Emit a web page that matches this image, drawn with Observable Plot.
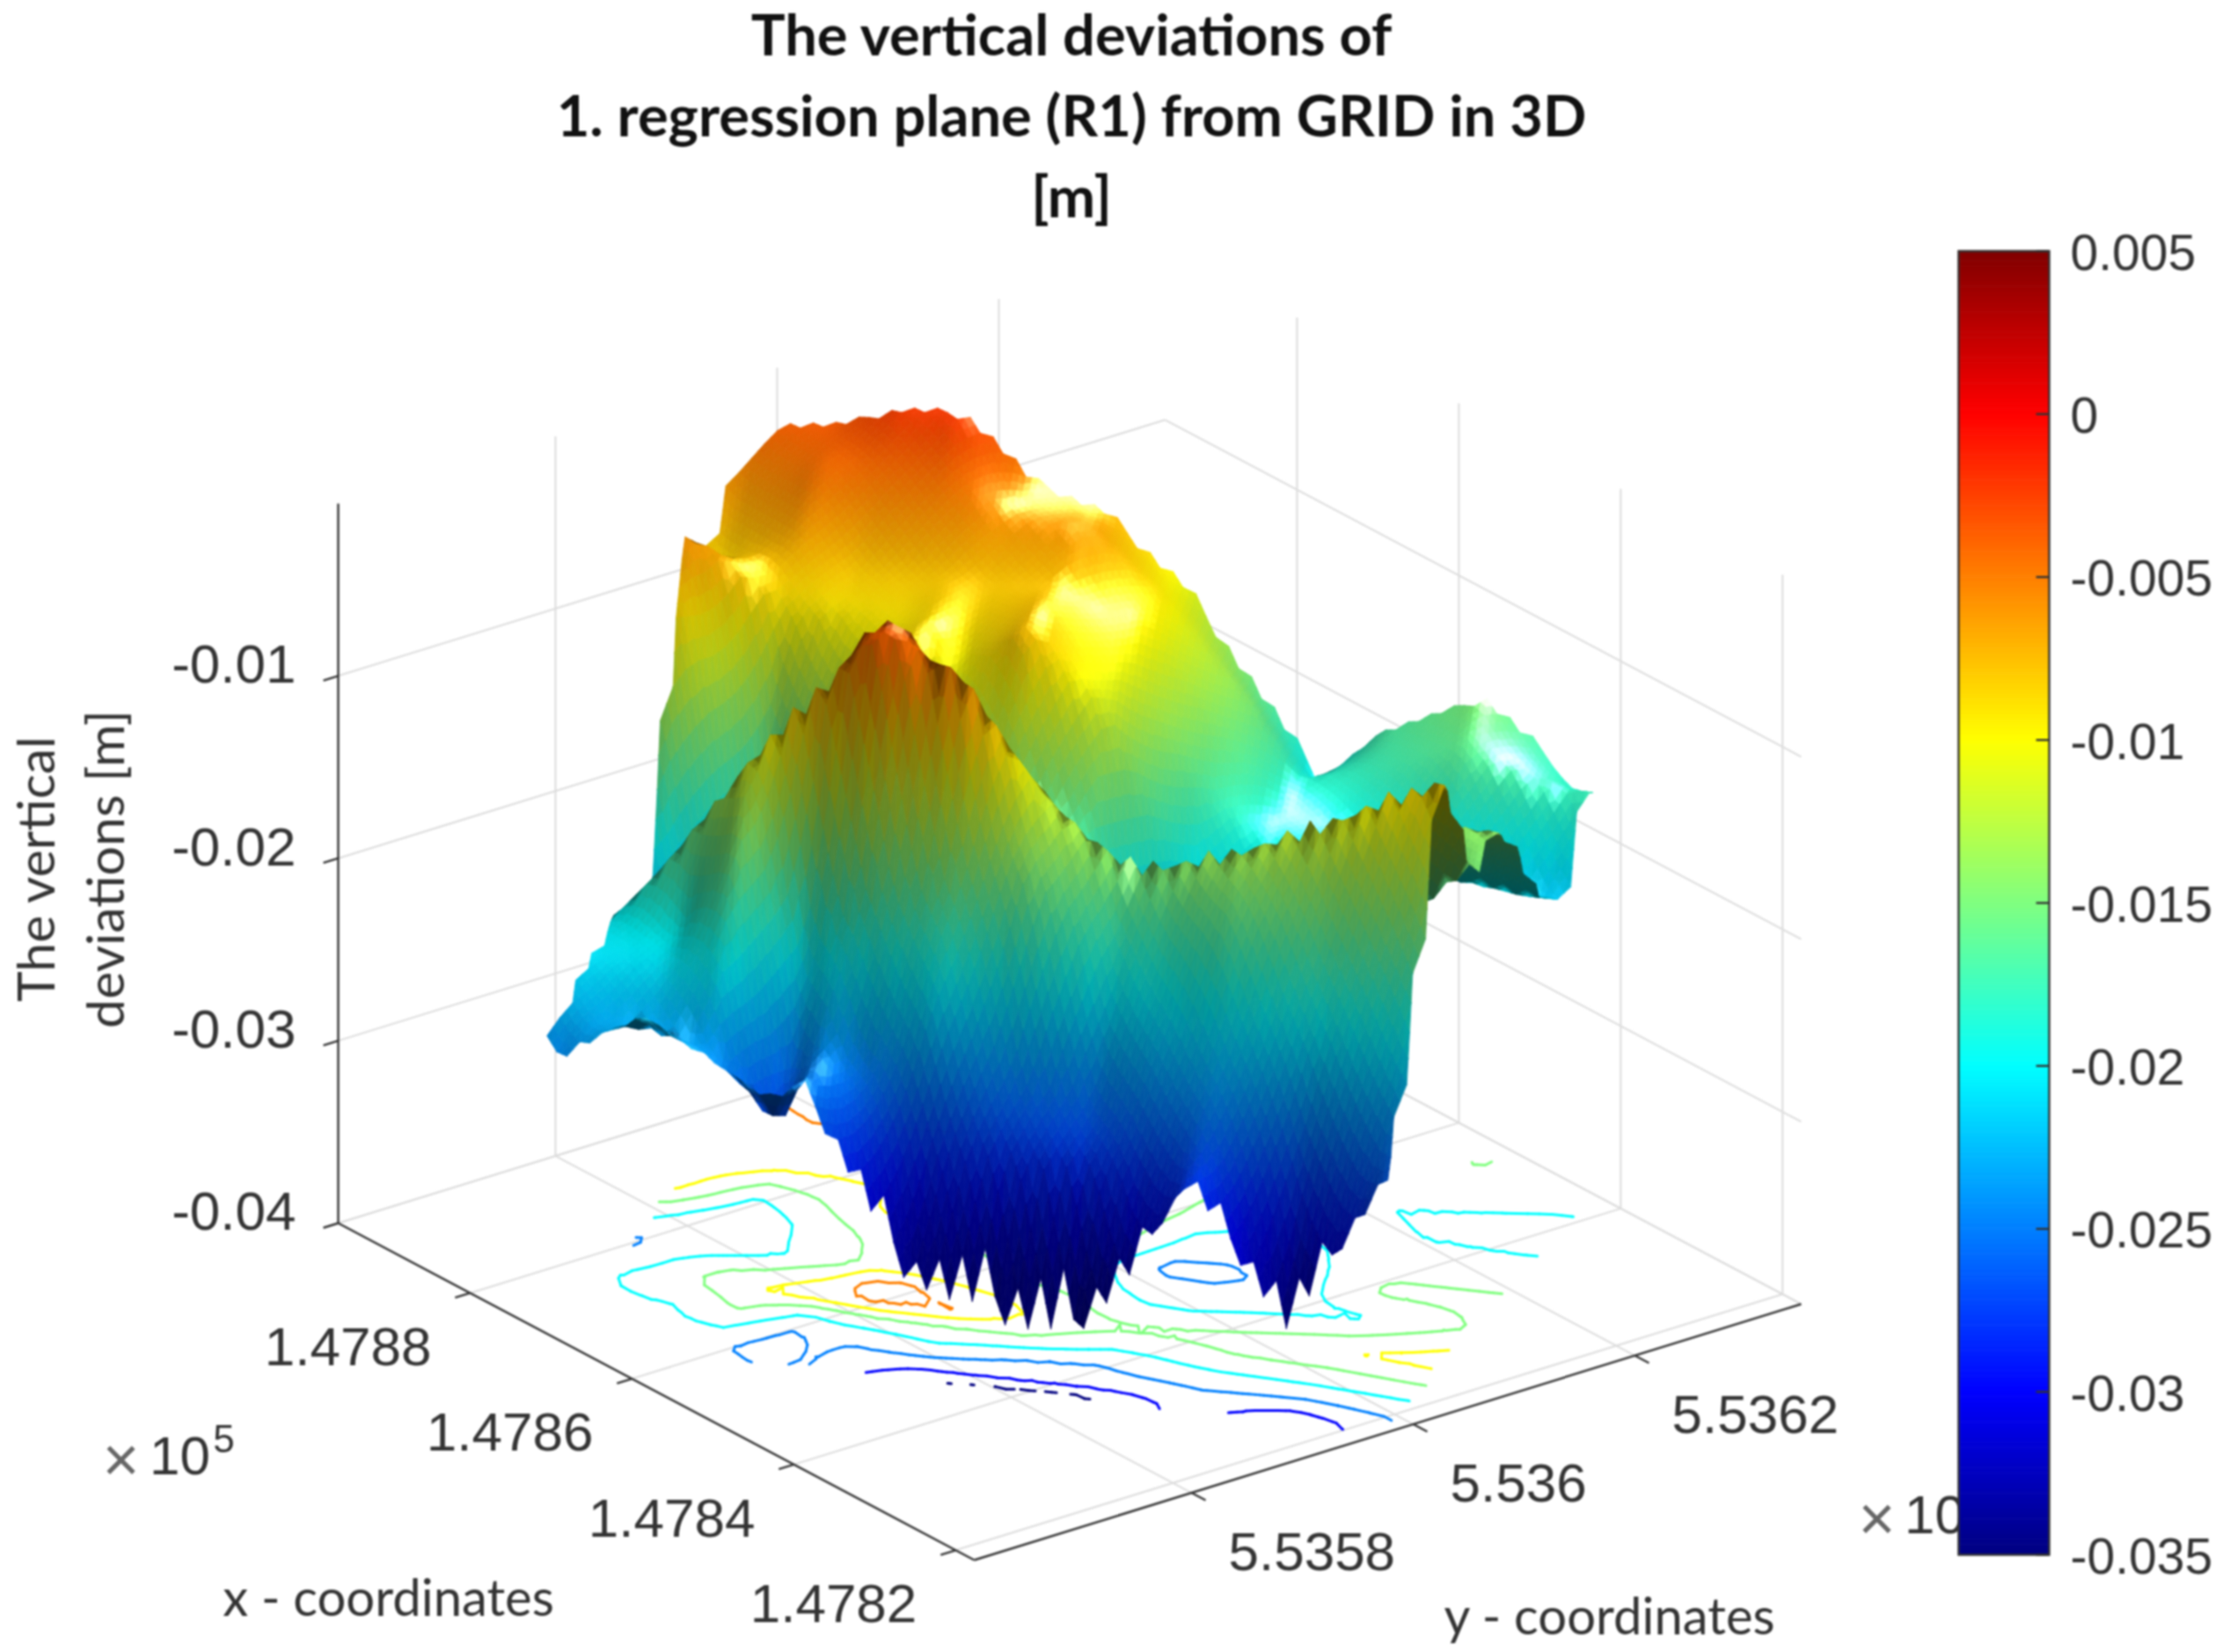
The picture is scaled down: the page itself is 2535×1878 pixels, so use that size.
<!DOCTYPE html>
<html>
<head>
<meta charset="utf-8">
<script src="https://cdn.jsdelivr.net/npm/d3@7"></script>
<script src="https://cdn.jsdelivr.net/npm/@observablehq/plot@0.6"></script>
<style>
  body { margin: 0; background: #fff; }
  #wrap { position: relative; width: 2535px; height: 1878px; overflow: hidden; filter: blur(0.9px); }
  #wrap svg { position: absolute; left: 0; top: 0; }
  #title { position: absolute; left: 0; top: -8px; width: 2436px; text-align: center;
    font: bold 65px/92px Lato, sans-serif; color: #111; z-index: 2; }
  #ylabel { position: absolute; left: 0px; top: 988px; width: 460px; text-align: center;
    font: 59px/79px Lato, sans-serif; color: #333; transform-origin: 0 0;
    transform: rotate(-90deg) translate(-230px, 0); z-index: 2; }
</style>
</head>
<body>
<div id="wrap">
  <div id="title">The vertical deviations of<br>1. regression plane (R1) from GRID in 3D<br>[m]</div>
  <div id="ylabel">The vertical<br>deviations [m]</div>
</div>
<script>
const W = 2535, H = 1878;

const xTicks = [147820, 147840, 147860, 147880];
const yTicks = [553580, 553600, 553620];
const zTicks = [-0.04, -0.03, -0.02, -0.01];
const xTickLabels = ["1.4782", "1.4784", "1.4786", "1.4788"];
const yTickLabels = ["5.5358", "5.536", "5.5362"];
const zTickLabels = ["-0.04", "-0.03", "-0.02", "-0.01"];
const barTicks = [0.005, 0, -0.005, -0.01, -0.015, -0.02, -0.025, -0.03, -0.035];
const barTickLabels = ["0.005", "0", "-0.005", "-0.01", "-0.015", "-0.02", "-0.025", "-0.03", "-0.035"];
const contourLevels = [-0.035, -0.03, -0.025, -0.02, -0.015, -0.01, -0.005];

const xLimits = [147817.7, 147896.3];
const yLimits = [553560.4, 553635];
const zLimits = [-0.04, -0.00056];

// the measured patch is a tilted rectangle on the x/y floor
const patchCorner = [147868.8, 553560.4];
const patchAlong = [-51.1, 37.3];
const patchAcross = [29.1, 38.8];

// positions along / across the patch, and the deviations read there
const alongStops = [0, 0.1, 0.17, 0.25, 0.29, 0.33, 0.42, 0.52, 0.62, 0.68, 0.76, 0.88, 1];
const acrossStops = [0, 0.05, 0.12, 0.2, 0.27, 0.33, 0.4, 0.5, 0.6, 0.7, 0.8, 0.9, 1];
const row00 = [-.0245,-.0215,-.0235,-.0252,-.0245,-.0275,-.0345,-.0362,-.0368,-.0335,-.0275,-.035,-.0262];
const row01 = [-.0225,-.0235,-.0238,-.0279,-.0245,-.0262,-.029,-.0285,-.0285,-.0285,-.0265,-.0285,-.0248];
const row02 = [-.021,-.021,-.0195,-.0255,-.024,-.0245,-.0215,-.0245,-.0255,-.0235,-.0225,-.0215,-.02];
const row03 = [-.0205,-.0195,-.0138,-.0195,-.018,-.0165,-.0155,-.015,-.019,-.0185,-.0158,-.0155,-.0135];
const row04 = [-.0205,-.015,-.0105,-.0062,-.0048,-.0036,-.0048,-.0115,-.0142,-.0138,-.0128,-.0102,-.0078];
const row05 = [-.0245,-.016,-.0145,-.0098,-.0042,-.0032,-.0085,-.0125,-.0185,-.0185,-.017,-.015,-.0105];
const row06 = [-.0255,-.0235,-.0205,-.0165,-.0125,-.013,-.0145,-.0165,-.0215,-.0225,-.0215,-.0205,-.015];
const row07 = [-.0185,-.0255,-.0195,-.0145,-.014,-.0145,-.0155,-.017,-.0265,-.0265,-.0235,-.014,-.014];
const row08 = [-.009,-.0195,-.0155,-.0095,-.0085,-.0105,-.0075,-.0115,-.0215,-.0225,-.021,-.0165,-.0165];
const row09 = [-.0058,-.0095,-.0095,-.0092,-.0085,-.0088,-.0075,-.0105,-.0175,-.019,-.019,-.02,-.0205];
const row10 = [-.0088,-.0068,-.0078,-.0078,-.0078,-.0078,-.0078,-.0095,-.0155,-.0185,-.0195,-.0205,-.022];
const row11 = [-.0066,-.0045,-.0048,-.005,-.0052,-.0058,-.006,-.0095,-.0145,-.0185,-.0178,-.0162,-.0175];
const row12 = [-.004,-.0036,-.0024,-.0022,-.0037,-.0055,-.0068,-.0105,-.0165,-.0202,-.017,-.0147,-.019];
const zRows = [row00, row01, row02, row03, row04, row05, row06, row07, row08, row09, row10, row11, row12];

// MATLAB jet
const jetStops = [0, 0.125, 0.375, 0.625, 0.875, 1];
const jetRgb = [[0, 0, 128], [0, 0, 255], [0, 255, 255], [255, 255, 0], [255, 0, 0], [128, 0, 0]];
const jetDomain = [-0.035, 0.005];
const jetIndex = d3.scaleLinear().domain(jetStops).range(jetRgb.map((_, i) => i)).clamp(true);
function jet(z) {
  const f = jetIndex((z - jetDomain[0]) / (jetDomain[1] - jetDomain[0]));
  const i = Math.min(Math.floor(f), jetRgb.length - 2), a = f - i;
  return jetRgb[i].map((c, k) => c + (jetRgb[i + 1][k] - c) * a);
}
const css = c => `rgb(${c.map(v => Math.round(Math.max(0, Math.min(255, v)))).join(",")})`;

// orthographic view of the axes box, fitted to the picture's box corners
const origin = [1107, 1773], xEdge = [-723, -383], yEdge = [940, -291], zEdge = [0, -818];
function project(x, y, z) {
  const s = (x - xLimits[0]) / (xLimits[1] - xLimits[0]);
  const t = (y - yLimits[0]) / (yLimits[1] - yLimits[0]);
  const h = (z - zLimits[0]) / (zLimits[1] - zLimits[0]);
  return [origin[0] + s * xEdge[0] + t * yEdge[0], origin[1] + s * xEdge[1] + t * yEdge[1] + h * zEdge[1]];
}
function seg(a, b, extra = {}) {
  const p = project(...a), q = project(...b);
  return { x1: p[0], y1: p[1], x2: q[0], y2: q[1], ...extra };
}

// --- surface
function patchCoords(x, y) {
  const dx = x - patchCorner[0], dy = y - patchCorner[1];
  const det = patchAlong[0] * patchAcross[1] - patchAlong[1] * patchAcross[0];
  return [(dx * patchAcross[1] - dy * patchAcross[0]) / det, (patchAlong[0] * dy - patchAlong[1] * dx) / det];
}
function stopPos(stops, v) {
  const c = Math.max(stops[0], Math.min(stops[stops.length - 1], v));
  const i = Math.min(d3.bisectRight(stops, c) - 1, stops.length - 2);
  return [i, (c - stops[i]) / (stops[i + 1] - stops[i])];
}
function heightAt(x, y) {
  const [p, q] = patchCoords(x, y);
  const [i, a] = stopPos(alongStops, p), [j, b] = stopPos(acrossStops, q);
  const r0 = zRows[j][i] * (1 - a) + zRows[j][i + 1] * a;
  const r1 = zRows[j + 1][i] * (1 - a) + zRows[j + 1][i + 1] * a;
  return r0 * (1 - b) + r1 * b;
}
// left limit of the patch: a narrow tip at the front, straight behind it
const leftLimit = q => q < 0.17 ? -0.025 + 0.15 * q : -0.03 * (q - 0.17);

const N = 64;
const stepX = (xLimits[1] - xLimits[0]) / N, stepY = (yLimits[1] - yLimits[0]) / N;
const worldX = 738 / (xLimits[1] - xLimits[0]), worldY = 733 / (yLimits[1] - yLimits[0]);
const worldZ = 552 / (zLimits[1] - zLimits[0]);
const norm = v => { const l = Math.hypot(...v); return v.map(c => c / l); };
const dot = (a, b) => a[0] * b[0] + a[1] * b[1] + a[2] * b[2];
const viewDir = norm([-0.727, -0.555, 0.405]);
const lightDir = norm([-0.35, 0.15, 0.92]);
const halfDir = norm([-0.3, 0.13, 0.94]);

function node(i, j) {
  const x = xLimits[0] + i * stepX, y = yLimits[0] + j * stepY;
  const [p, q] = patchCoords(x, y);
  if (p < leftLimit(q) || p > 1 + 0.04 * q || q < -0.012 || q > 1.03) return null;
  const z = heightAt(x, y);
  const dzx = (heightAt(x + stepX, y) - heightAt(x - stepX, y)) / (2 * stepX) * worldZ / worldX;
  const dzy = (heightAt(x, y + stepY) - heightAt(x, y - stepY)) / (2 * stepY) * worldZ / worldY;
  const n = norm([-dzx, -dzy, 1]);
  const base = jet(z);
  if (dot(n, viewDir) < 0) return { x, y, z, rgb: base.map(c => c * 0.32) };
  const diff = Math.max(0, dot(n, lightDir));
  const spec = 0.8 * Math.pow(Math.max(0, dot(n, halfDir)), 40);
  return { x, y, z, rgb: base.map(c => c * (0.4 + 0.6 * diff) + 255 * spec) };
}
const nodes = d3.range(N + 1).map(i => d3.range(N + 1).map(j => node(i, j)));
const triangles = [];
for (let i = 0; i < N; i++) for (let j = 0; j < N; j++) {
  const a = nodes[i][j], b = nodes[i + 1][j], c = nodes[i][j + 1], d = nodes[i + 1][j + 1];
  if (a && b && d) triangles.push([a, b, d]);
  if (a && c && d) triangles.push([a, d, c]);
}
const depth = tr => d3.mean(tr, v => (v.x - xLimits[0]) / (xLimits[1] - xLimits[0]) + 0.77 * (v.y - yLimits[0]) / (yLimits[1] - yLimits[0]));
triangles.sort((u, v) => depth(v) - depth(u));

const mid = (a, b) => ({ x: (a.x + b.x) / 2, y: (a.y + b.y) / 2, z: (a.z + b.z) / 2, rgb: a.rgb.map((c, k) => (c + b.rgb[k]) / 2) });
const facets = [];
let facetId = 0;
function addFacet(tr) {
  const color = css([0, 1, 2].map(k => d3.mean(tr, v => v.rgb[k])));
  for (const v of tr) {
    const [px, py] = project(v.x, v.y, v.z);
    facets.push({ id: facetId, px, py, color });
  }
  facetId++;
}
for (const [a, b, c] of triangles) {
  const ab = mid(a, b), bc = mid(b, c), ca = mid(c, a);
  addFacet([a, ab, ca]); addFacet([ab, b, bc]); addFacet([ca, bc, c]); addFacet([ab, bc, ca]);
}

// --- floor contours, one short link per triangle crossed
const contourSegs = [];
for (const tr of triangles) for (const level of contourLevels) {
  const cut = [];
  for (let k = 0; k < 3; k++) {
    const u = tr[k], v = tr[(k + 1) % 3];
    if ((u.z < level) !== (v.z < level)) {
      const a = (level - u.z) / (v.z - u.z);
      cut.push([u.x + (v.x - u.x) * a, u.y + (v.y - u.y) * a, zLimits[0]]);
    }
  }
  if (cut.length === 2) contourSegs.push(seg(cut[0], cut[1], { color: css(jet(level)) }));
}

// --- axes box
const [x0, x1] = xLimits, [y0, y1] = yLimits, [z0, z1] = zLimits;
const gridSegs = [
  ...xTicks.flatMap(x => [seg([x, y0, z0], [x, y1, z0]), seg([x, y1, z0], [x, y1, z1])]),
  ...yTicks.flatMap(y => [seg([x0, y, z0], [x1, y, z0]), seg([x1, y, z0], [x1, y, z1])]),
  ...zTicks.flatMap(z => [seg([x1, y0, z], [x1, y1, z]), seg([x1, y1, z], [x0, y1, z])]),
  seg([x1, y0, z0], [x1, y1, z0]), seg([x1, y1, z0], [x0, y1, z0])
];
const tickX = 0.2 * (y1 - y0) / 11, tickY = 0.2 * (x1 - x0) / 9, tickZ = 0.018 * (y1 - y0);
const axisSegs = [
  seg([x1, y0, z0], [x1, y0, z1]), seg([x1, y0, z0], [x0, y0, z0]), seg([x0, y0, z0], [x0, y1, z0]),
  ...xTicks.map(x => seg([x, y0, z0], [x, y0 - tickX, z0])),
  ...yTicks.map(y => seg([x0, y, z0], [x0 - tickY, y, z0])),
  ...zTicks.map(z => seg([x1, y0, z], [x1, y0 - tickZ, z]))
];
const tickText = (vals, labels, at) => vals.map((v, i) => { const p = at(v); return { px: p[0], py: p[1], label: labels[i] }; });
const xLabels = tickText(xTicks, xTickLabels, x => project(x, y0, z0));
const yLabels = tickText(yTicks, yTickLabels, y => project(x0, y, z0));
const zLabels = tickText(zTicks, zTickLabels, z => project(x1, y0, z));
const fontTick = "Liberation Sans", fontLabel = "Lato", ink = "#333";
const cornerLeft = project(x1, y0, z0), cornerFront = project(x0, y0, z0), cornerRight = project(x0, y1, z0);

const main = Plot.plot({
  width: W, height: H, margin: 0,
  x: { domain: [0, W], range: [0, W], axis: null },
  y: { domain: [0, H], range: [0, H], axis: null },
  color: { type: "identity" },
  style: { background: "transparent" },
  marks: [
    Plot.link(gridSegs, { x1: "x1", y1: "y1", x2: "x2", y2: "y2", stroke: "#dcdcdc", strokeWidth: 2 }),
    Plot.link(axisSegs, { x1: "x1", y1: "y1", x2: "x2", y2: "y2", stroke: "#333", strokeWidth: 2.4 }),
    Plot.link(contourSegs, { x1: "x1", y1: "y1", x2: "x2", y2: "y2", stroke: "color", strokeWidth: 3, strokeLinecap: "round" }),
    Plot.line(facets, { x: "px", y: "py", z: "id", fill: "color", stroke: "color", strokeWidth: 0.8, curve: "linear-closed" }),
    Plot.text(xLabels, { x: "px", y: "py", text: "label", textAnchor: "end", dx: -44, dy: 62, fontSize: 62, fontFamily: fontTick, fill: ink }),
    Plot.text(yLabels, { x: "px", y: "py", text: "label", textAnchor: "start", dx: 42, dy: 68, fontSize: 62, fontFamily: fontTick, fill: ink }),
    Plot.text(zLabels, { x: "px", y: "py", text: "label", textAnchor: "end", dx: -48, dy: -12, fontSize: 62, fontFamily: fontTick, fill: ink }),
    Plot.text([cornerLeft], { x: d => d[0], y: d => d[1], text: () => "x - coordinates", dx: 57, dy: 428, fontSize: 58, fontFamily: fontLabel, fill: ink }),
    Plot.text([cornerFront], { x: d => d[0], y: d => d[1], text: () => "y - coordinates", dx: 722, dy: 66, fontSize: 58, fontFamily: fontLabel, fill: ink }),
    Plot.text([cornerLeft], { x: d => d[0], y: d => d[1], text: () => "×", dx: -247, dy: 270, fontSize: 72, fontFamily: fontTick, fill: "#666" }),
    Plot.text([cornerLeft], { x: d => d[0], y: d => d[1], text: () => "10", dx: -180, dy: 266, fontSize: 62, fontFamily: fontTick, fill: ink }),
    Plot.text([cornerLeft], { x: d => d[0], y: d => d[1], text: () => "5", dx: -130, dy: 246, fontSize: 44, fontFamily: fontTick, fill: ink }),
    Plot.text([cornerRight], { x: d => d[0], y: d => d[1], text: () => "×", dx: 86, dy: 245, fontSize: 72, fontFamily: fontTick, fill: "#666" }),
    Plot.text([cornerRight], { x: d => d[0], y: d => d[1], text: () => "10", dx: 152, dy: 241, fontSize: 62, fontFamily: fontTick, fill: ink })
  ]
});

// --- colorbar, its own plot laid over the same page area
const barLevels = d3.range(256).map(i => jetDomain[0] + (jetDomain[1] - jetDomain[0]) * i / 256);
const barStep = (jetDomain[1] - jetDomain[0]) / 256;
const bar = Plot.plot({
  width: W, height: H,
  marginLeft: 2226, marginRight: W - 2329, marginTop: 285, marginBottom: H - 1767,
  x: { domain: [0, 1], axis: null },
  y: { domain: jetDomain, axis: null },
  color: { type: "identity" },
  style: { background: "transparent" },
  marks: [
    Plot.rect(barLevels, { x1: 0, x2: 1, y1: d => d, y2: d => d + barStep, fill: d => css(jet(d + barStep / 2)), inset: -0.3 }),
    Plot.frame({ stroke: "#333", strokeWidth: 2.4 }),
    Plot.ruleY(barTicks, { x1: 0.86, x2: 1, stroke: "#333", strokeWidth: 2.4 }),
    Plot.text(barTicks, { x: 1, y: d => d, text: (d, i) => barTickLabels[i], textAnchor: "start", dx: 24, dy: 3, fontSize: 57, fontFamily: fontTick, fill: ink })
  ]
});

document.getElementById("wrap").append(main, bar);
</script>
</body>
</html>
